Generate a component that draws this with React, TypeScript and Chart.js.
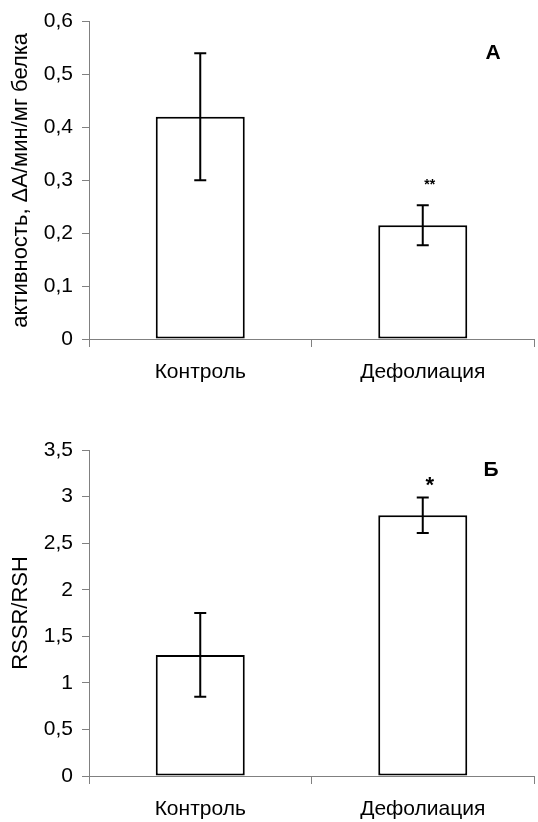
import React, { useEffect, useRef } from 'react';
import { Chart, registerables } from 'chart.js';

Chart.register(...registerables);

const categories = ['Контроль', 'Дефолиация'];

const activityValues = [0.42, 0.215];
const activityErrors = [0.12, 0.038];
const activityMarks = ['', '**'];
const activityTitle = 'активность, ΔA/мин/мг белка';
const activityLetter = 'А';

const ratioValues = [1.3, 2.8];
const ratioErrors = [0.45, 0.19];
const ratioMarks = ['', '*'];
const ratioTitle = 'RSSR/RSH';
const ratioLetter = 'Б';

const FONT = "'Liberation Sans', Arial, sans-serif";

const fmt = (v: number) => String(Math.round(v * 10) / 10).replace('.', ',');

const errorBarPlugin = {
  id: 'errorBars',
  afterDatasetsDraw(chart: any, _args: any, opts: any) {
    const { ctx, chartArea } = chart;
    const meta = chart.getDatasetMeta(0);
    const y = chart.scales.y;
    ctx.save();
    ctx.strokeStyle = '#000';
    ctx.fillStyle = '#000';
    ctx.lineWidth = 2;
    opts.values.forEach((v: number, i: number) => {
      const e = opts.errors[i];
      const bar = meta.data[i];
      const x = bar.x;
      const yt = y.getPixelForValue(v + e);
      const yb = y.getPixelForValue(v - e);
      const cap = 6;
      ctx.beginPath();
      ctx.moveTo(x, yt);
      ctx.lineTo(x, yb);
      ctx.moveTo(x - cap, yt);
      ctx.lineTo(x + cap, yt);
      ctx.moveTo(x - cap, yb);
      ctx.lineTo(x + cap, yb);
      ctx.stroke();
      const m = opts.marks[i];
      if (m) {
        ctx.font = opts.markFont;
        ctx.textAlign = 'center';
        ctx.textBaseline = 'middle';
        ctx.fillText(m, x + opts.markDx, yt - opts.markDy);
      }
    });
    ctx.font = `bold 21px ${FONT}`;
    ctx.textAlign = 'center';
    ctx.textBaseline = 'middle';
    ctx.fillText(opts.letter, chartArea.right + opts.letterDx, chartArea.top + opts.letterDy);
    ctx.restore();
  },
};

type PanelProps = {
  width: number;
  height: number;
  values: number[];
  errors: number[];
  marks: string[];
  max: number;
  step: number;
  title: string;
  letter: string;
  padTop: number;
  xAxisHeight: number;
  markFont: string;
  markDx: number;
  markDy: number;
  letterDx: number;
  letterDy: number;
};

function Panel(p: PanelProps) {
  const ref = useRef<HTMLCanvasElement | null>(null);
  useEffect(() => {
    if (!ref.current) return;
    const chart = new Chart(ref.current, {
      type: 'bar',
      data: {
        labels: categories,
        datasets: [
          {
            data: p.values,
            backgroundColor: '#ffffff',
            borderColor: '#000000',
            borderWidth: 2,
            borderSkipped: false,
            barPercentage: 0.4,
            categoryPercentage: 1,
          },
        ],
      },
      options: {
        responsive: false,
        animation: false,
        devicePixelRatio: 1,
        layout: { padding: { top: p.padTop, right: 4, bottom: 0, left: 0 } },
        plugins: {
          legend: { display: false },
          tooltip: { enabled: false },
          errorBars: {
            values: p.values,
            errors: p.errors,
            marks: p.marks,
            letter: p.letter,
            markFont: p.markFont,
            markDx: p.markDx,
            markDy: p.markDy,
            letterDx: p.letterDx,
            letterDy: p.letterDy,
          },
        } as any,
        scales: {
          x: {
            grid: { drawOnChartArea: false, drawTicks: true, tickLength: 8, offset: true, color: '#808080' },
            border: { color: '#808080', width: 1 },
            ticks: { color: '#000', font: { family: FONT, size: 21 }, padding: 13 },
            afterFit: (s: any) => {
              s.height = p.xAxisHeight;
            },
          },
          y: {
            min: 0,
            max: p.max,
            ticks: {
              stepSize: p.step,
              color: '#000',
              font: { family: FONT, size: 21 },
              padding: 9,
              callback: (v: any) => fmt(Number(v)),
            },
            grid: { drawOnChartArea: false, drawTicks: true, tickLength: 7, color: '#808080' },
            border: { color: '#808080', width: 1 },
            title: {
              display: true,
              text: p.title,
              color: '#000',
              font: { family: FONT, size: 22 },
              padding: { top: 8, bottom: 0 },
            },
            afterFit: (s: any) => {
              s.width = 89;
            },
          },
        },
      },
      plugins: [errorBarPlugin],
    } as any);
    return () => chart.destroy();
  }, []);
  return <canvas ref={ref} width={p.width} height={p.height} style={{ display: 'block' }} />;
}

export default function App() {
  return (
    <div style={{ position: 'absolute', left: 0, top: 0, width: 538, height: 822, background: '#fff' }}>
      <Panel
        width={538}
        height={400}
        values={activityValues}
        errors={activityErrors}
        marks={activityMarks}
        max={0.6}
        step={0.1}
        title={activityTitle}
        letter={activityLetter}
        padTop={20}
        xAxisHeight={61}
        markFont={`bold 14px ${FONT}`}
        markDx={7}
        markDy={20}
        letterDx={-41}
        letterDy={32}
      />
      <Panel
        width={538}
        height={422}
        values={ratioValues}
        errors={ratioErrors}
        marks={ratioMarks}
        max={3.5}
        step={0.5}
        title={ratioTitle}
        letter={ratioLetter}
        padTop={50}
        xAxisHeight={46}
        markFont={`bold 22px ${FONT}`}
        markDx={7}
        markDy={12}
        letterDx={-43}
        letterDy={20}
      />
    </div>
  );
}
